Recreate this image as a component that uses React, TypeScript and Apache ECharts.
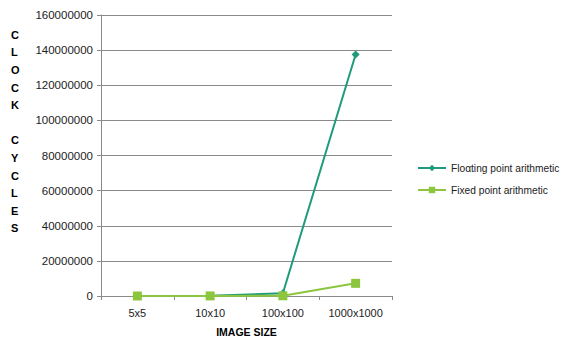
import React, { useEffect, useRef } from "react";
import * as echarts from "echarts";

const categories = ["5x5", "10x10", "100x100", "1000x1000"];
const floatingValues = [20000, 150000, 1600000, 137500000];
const fixedValues = [10000, 40000, 120000, 7200000];
const yTicks = { min: 0, max: 160000000, interval: 20000000 };

const FONT = "'Liberation Sans', Arial, sans-serif";
const GRID_COLOR = "#8a8a8a";

export default function App() {
  const ref = useRef<HTMLDivElement>(null);

  useEffect(() => {
    if (!ref.current) return;
    const chart = echarts.init(ref.current, undefined, { renderer: "svg" });
    chart.setOption({
      animation: false,
      backgroundColor: "#ffffff",
      textStyle: { fontFamily: FONT },
      grid: {
        left: 101,
        right: 178,
        top: 15,
        bottom: 41,
        containLabel: false,
        outerBoundsMode: "none",
      },
      legend: {
        orient: "vertical",
        left: 412,
        top: 158,
        itemWidth: 28,
        itemHeight: 8,
        itemGap: 12,
        textStyle: { fontFamily: FONT, fontSize: 10.2, color: "#222" },
        data: [
          { name: "Floαting point arithmetic" },
          { name: "Fixed point arithmetic" },
        ],
      },
      xAxis: {
        type: "category",
        data: categories,
        boundaryGap: true,
        name: "IMAGE SIZE",
        nameLocation: "middle",
        nameGap: 30,
        nameTextStyle: { fontFamily: FONT, fontSize: 10.5, fontWeight: "bold", color: "#000" },
        axisLine: { lineStyle: { color: GRID_COLOR } },
        axisTick: { show: true, length: 4, interval: 0, lineStyle: { color: GRID_COLOR } },
        axisLabel: { fontFamily: FONT, fontSize: 11, color: "#222", margin: 11 },
      },
      yAxis: {
        type: "value",
        min: yTicks.min,
        max: yTicks.max,
        interval: yTicks.interval,
        axisLine: { show: true, lineStyle: { color: GRID_COLOR } },
        axisTick: { show: true, length: 4, lineStyle: { color: GRID_COLOR } },
        axisLabel: {
          fontFamily: FONT,
          fontSize: 11.5,
          color: "#222",
          margin: 8,
          formatter: (v: number) => String(v),
        },
        splitLine: { lineStyle: { color: GRID_COLOR, width: 1 } },
      },
      graphic: [
        {
          type: "text",
          left: 11,
          top: 26,
          style: {
            text: "C\nL\nO\nC\nK\n\nC\nY\nC\nL\nE\nS",
            font: `bold 11px ${FONT}`,
            fill: "#000",
            lineHeight: 17.6,
            align: "center",
            width: 12,
          },
        },
      ],
      series: [
        {
          name: "Floαting point arithmetic",
          type: "line",
          data: floatingValues,
          symbol: "diamond",
          symbolSize: 8,
          lineStyle: { color: "#1f9b7c", width: 2 },
          itemStyle: { color: "#1f9b7c" },
          z: 3,
        },
        {
          name: "Fixed point arithmetic",
          type: "line",
          data: fixedValues,
          symbol: "rect",
          symbolSize: 9,
          lineStyle: { color: "#8cc63f", width: 2 },
          itemStyle: { color: "#8cc63f" },
          z: 4,
        },
      ],
    });
    return () => chart.dispose();
  }, []);

  return (
    <div
      ref={ref}
      style={{ position: "absolute", left: 0, top: 0, width: 570, height: 337 }}
    />
  );
}
